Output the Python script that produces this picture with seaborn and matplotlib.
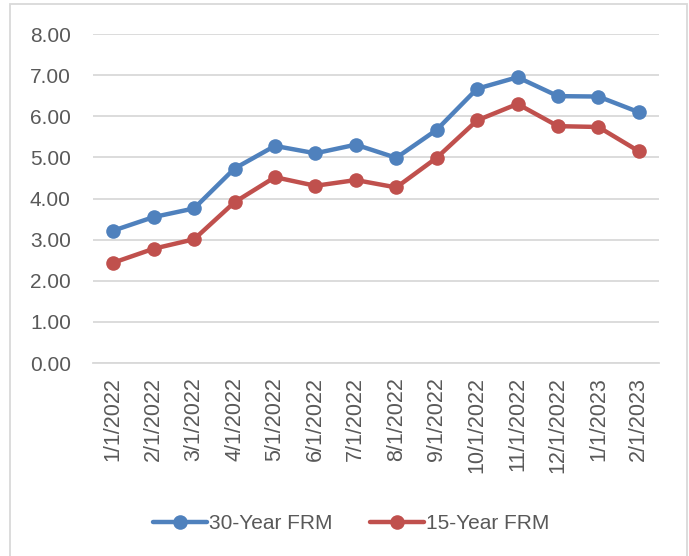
import matplotlib
matplotlib.use("Agg")
import matplotlib.pyplot as plt
import matplotlib.patches as mpatches
from matplotlib.lines import Line2D
from matplotlib.ticker import FixedLocator, FormatStrFormatter
import numpy as np
import pandas as pd
import seaborn as sns

# Monthly average fixed mortgage rates (%)
dates = ["1/1/2022", "2/1/2022", "3/1/2022", "4/1/2022", "5/1/2022", "6/1/2022",
         "7/1/2022", "8/1/2022", "9/1/2022", "10/1/2022", "11/1/2022", "12/1/2022",
         "1/1/2023", "2/1/2023"]
frm30 = [3.22, 3.55, 3.76, 4.73, 5.28, 5.10, 5.31, 4.99, 5.67, 6.67, 6.95, 6.49, 6.48, 6.10]
frm15 = [2.44, 2.78, 3.01, 3.91, 4.52, 4.31, 4.45, 4.27, 4.99, 5.90, 6.30, 5.76, 5.74, 5.15]
series_names = ["30-Year FRM", "15-Year FRM"]
colors = ["#4F81BD", "#C0504D"]
y_ticks = [0, 1, 2, 3, 4, 5, 6, 7, 8]

sns.set_theme(style="white")
plt.rcParams["font.family"] = ["Liberation Sans", "DejaVu Sans"]

pos = np.arange(len(dates))
df = pd.DataFrame({
    "pos": np.concatenate([pos, pos]),
    "rate": frm30 + frm15,
    "series": [series_names[0]] * len(dates) + [series_names[1]] * len(dates),
})

fig = plt.figure(figsize=(6.89, 5.56), dpi=100)
ax = fig.add_axes([0.135, 0.347, 0.8215, 0.5918])

sns.lineplot(data=df, x="pos", y="rate", hue="series", palette=colors,
             hue_order=series_names, marker="o", markersize=10.5,
             markeredgewidth=0, linewidth=3.2, legend=False, ax=ax, zorder=3)

text_color = "#595959"
grid_color = "#D9D9D9"

ax.set_ylim(0, 8)
ax.set_xlim(-0.5, len(dates) - 0.5)
ax.yaxis.set_major_locator(FixedLocator(y_ticks))
ax.yaxis.set_major_formatter(FormatStrFormatter("%.2f"))
ax.yaxis.grid(True, color=grid_color, linewidth=1.3)
ax.xaxis.grid(False)
ax.set_axisbelow(True)

ax.set_xticks(pos)
ax.set_xticklabels(dates, rotation=90, va="top", ha="center")
ax.set_xticks(np.arange(-0.5, len(dates)), minor=True)
ax.tick_params(axis="x", which="major", length=0, pad=10, labelsize=15.5, colors=text_color)
ax.tick_params(axis="x", which="minor", length=7, width=1.3, color=grid_color, direction="out")
ax.tick_params(axis="y", length=0, pad=16, labelsize=15, colors=text_color)
ax.set_xlabel("")
ax.set_ylabel("")

for side in ["top", "right", "left"]:
    ax.spines[side].set_visible(False)
ax.spines["bottom"].set_color(grid_color)
ax.spines["bottom"].set_linewidth(1.3)

handles = [Line2D([0], [0], color=c, linewidth=3.2, marker="o", markersize=10.5,
                  markeredgewidth=0) for c in colors]
fig.legend(handles, series_names, loc="center", bbox_to_anchor=(0.51, 0.058),
           ncol=2, frameon=False, fontsize=15, labelcolor=text_color,
           handlelength=2.6, handletextpad=0.1, columnspacing=1.8)

# Chart border
fig.patches.append(mpatches.Rectangle((10 / 689, -0.01), 677 / 689, 1 - 4 / 556 + 0.01,
                                      transform=fig.transFigure, fill=False,
                                      edgecolor="#D9D9D9", linewidth=1.3))

fig.savefig("out.png", dpi=100)
